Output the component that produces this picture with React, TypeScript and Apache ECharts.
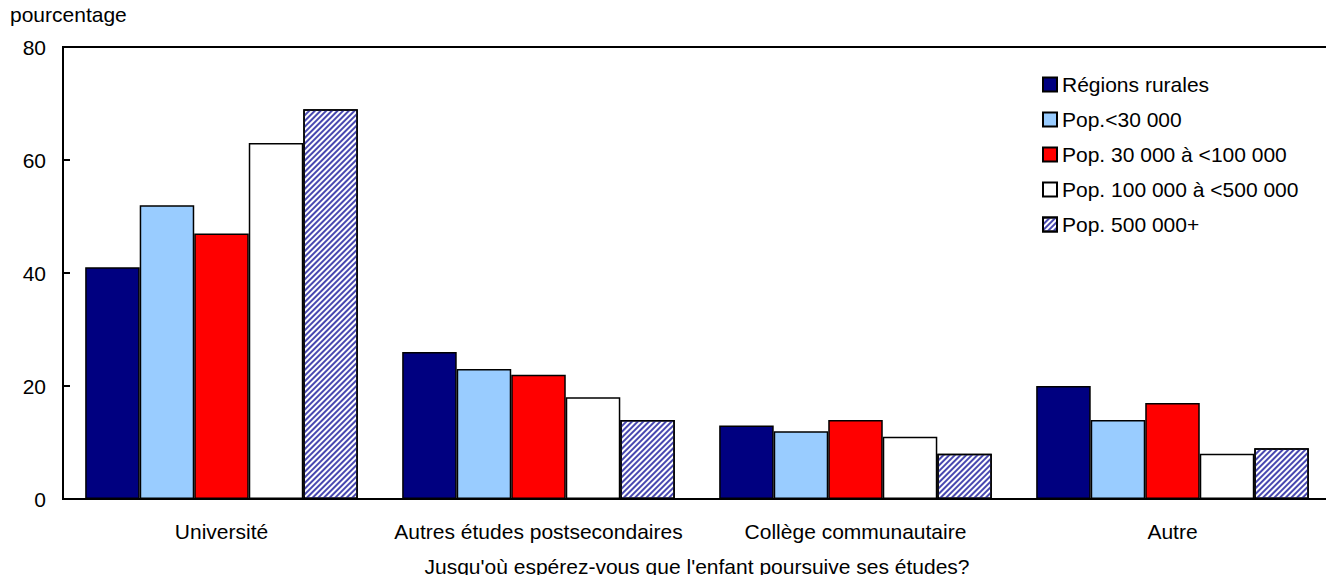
import React, { useEffect, useRef } from "react";
import * as echarts from "echarts";

const categories = [
  "Université",
  "Autres études postsecondaires",
  "Collège communautaire",
  "Autre",
];
const seriesNames = [
  "Régions rurales",
  "Pop.<30 000",
  "Pop. 30 000 à <100 000",
  "Pop. 100 000 à <500 000",
  "Pop. 500 000+",
];
const ruralValues = [41, 26, 13, 20];
const popUnder30kValues = [52, 23, 12, 14];
const pop30kTo100kValues = [47, 22, 14, 17];
const pop100kTo500kValues = [63, 18, 11, 8];
const pop500kPlusValues = [69, 14, 8, 9];
const yTicks = [0, 20, 40, 60, 80];

const FONT = "'Liberation Sans', Arial, Helvetica, sans-serif";
const FS = 21;

export default function App() {
  const ref = useRef<HTMLDivElement>(null);
  useEffect(() => {
    if (!ref.current) return;
    const chart = echarts.init(ref.current, null, { renderer: "svg" });
    const allValues = [
      ruralValues,
      popUnder30kValues,
      pop30kTo100kValues,
      pop100kTo500kValues,
      pop500kPlusValues,
    ];
    const colors = ["#000080", "#99ccff", "#ff0000", "#ffffff", "#ffffff"];
    const series = seriesNames.map((name, i) => ({
      name,
      type: "bar",
      data: allValues[i],
      barGap: "0%",
      barCategoryGap: "14%",
      itemStyle: {
        color: colors[i],
        borderColor: "#000000",
        borderWidth: 1.5,
        ...(i === 4
          ? {
              decal: {
                symbol: "rect",
                symbolSize: 1,
                color: "#4848b0",
                dashArrayX: [1, 0],
                dashArrayY: [1.2, 1.9],
                rotation: -Math.PI / 4,
              },
            }
          : {}),
      },
    }));
    chart.setOption({
      animation: false,
      textStyle: { fontFamily: FONT },
      grid: {
        left: 63,
        right: 3,
        top: 47,
        bottom: 84,
        containLabel: false,
        outerBoundsMode: "none",
        show: true,
        borderColor: "#000",
        borderWidth: 2,
        backgroundColor: "transparent",
      },
      legend: {
        orient: "vertical",
        left: 1037,
        top: 69,
        itemWidth: 14,
        itemHeight: 14,
        itemGap: 14,
        icon: "rect",
        textStyle: { fontSize: FS, color: "#000", fontFamily: FONT },
        data: seriesNames,
      },
      xAxis: {
        type: "category",
        data: categories,
        name: "Jusqu'où espérez-vous que l'enfant poursuive ses études?",
        nameLocation: "middle",
        nameGap: 57,
        nameTextStyle: { fontSize: FS, color: "#000", fontFamily: FONT },
        axisLine: { lineStyle: { color: "#000", width: 2 } },
        axisTick: { show: false },
        axisLabel: { fontSize: FS, color: "#000", margin: 22, interval: 0, fontFamily: FONT },
      },
      yAxis: {
        type: "value",
        min: yTicks[0],
        max: yTicks[yTicks.length - 1],
        interval: 20,
        name: "pourcentage",
        nameLocation: "end",
        nameGap: 22,
        nameTextStyle: { fontSize: FS, color: "#000", align: "left", padding: [0, 0, 0, -53], fontFamily: FONT },
        axisLine: { show: true, lineStyle: { color: "#000", width: 2 } },
        axisTick: { show: true, inside: true, length: 7, lineStyle: { color: "#000", width: 2 } },
        axisLabel: { fontSize: FS, color: "#000", margin: 17, fontFamily: FONT },
        splitLine: { show: false },
      },
      series,
    });
    return () => chart.dispose();
  }, []);
  return <div ref={ref} style={{ width: 1334, height: 583, margin: -8 }} />;
}
